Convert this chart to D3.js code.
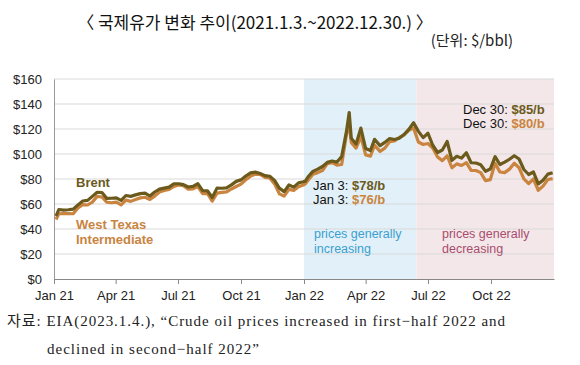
<!DOCTYPE html>
<html>
<head>
<meta charset="utf-8">
<script src="https://cdn.jsdelivr.net/npm/d3@7"></script>
<style>
  body { margin: 0; background: #fff; }
  svg { display: block; font-family: "Liberation Sans", Arial, sans-serif; }
</style>
</head>
<body>
<svg id="chart" width="580" height="365"></svg>
<script>
// weekly readings of the EIA spot prices ($/bbl)
const dates = [
  "2021-01-04","2021-01-08","2021-01-15","2021-01-22","2021-01-29","2021-02-05","2021-02-12","2021-02-19","2021-02-26",
  "2021-03-05","2021-03-12","2021-03-19","2021-03-26","2021-04-02","2021-04-09","2021-04-16","2021-04-23","2021-04-30",
  "2021-05-07","2021-05-14","2021-05-21","2021-05-28","2021-06-04","2021-06-11","2021-06-18","2021-06-25","2021-07-02",
  "2021-07-09","2021-07-16","2021-07-23","2021-07-30","2021-08-06","2021-08-13","2021-08-20","2021-08-27","2021-09-03",
  "2021-09-10","2021-09-17","2021-09-24","2021-10-01","2021-10-08","2021-10-15","2021-10-22","2021-10-29","2021-11-05",
  "2021-11-12","2021-11-19","2021-11-26","2021-12-03","2021-12-10","2021-12-17","2021-12-24","2021-12-31",
  "2022-01-03","2022-01-07","2022-01-14","2022-01-21","2022-01-28","2022-02-04","2022-02-11","2022-02-18","2022-02-25",
  "2022-03-04","2022-03-08","2022-03-11","2022-03-18","2022-03-25","2022-04-01","2022-04-08","2022-04-14","2022-04-22",
  "2022-04-29","2022-05-06","2022-05-13","2022-05-20","2022-05-27","2022-06-03","2022-06-10","2022-06-17","2022-06-24",
  "2022-07-01","2022-07-08","2022-07-15","2022-07-22","2022-07-29","2022-08-05","2022-08-12","2022-08-19","2022-08-26",
  "2022-09-02","2022-09-09","2022-09-16","2022-09-23","2022-09-30","2022-10-07","2022-10-14","2022-10-21","2022-10-28",
  "2022-11-04","2022-11-11","2022-11-18","2022-11-25","2022-12-02","2022-12-09","2022-12-16","2022-12-23","2022-12-30"
];
const brent = [
  50.4,55.6,55.1,55.4,55.9,59.3,62.4,62.9,66.1,
  69.4,69.2,64.5,64.6,64.9,62.9,66.8,66.1,67.3,
  68.3,68.7,66.4,69.6,71.9,72.7,73.5,76.2,76.2,
  75.5,73.6,74.1,76.3,70.7,70.6,65.2,72.7,72.6,
  72.9,75.3,78.1,79.3,82.4,84.9,85.5,84.4,82.7,
  82.2,78.9,72.7,69.9,75.2,73.5,76.9,77.8,
  78.3,81.8,86.1,87.9,90.0,93.3,94.4,93.5,97.9,
  118.1,133.2,112.7,107.9,120.7,104.4,102.8,111.7,106.7,
  109.3,112.4,111.6,112.6,115.6,119.7,125.0,118.1,113.1,
  116.6,107.0,101.2,103.2,110.0,94.9,98.2,96.7,101.0,
  93.0,92.8,91.4,86.2,88.0,97.9,91.6,93.5,95.8,
  98.6,96.0,87.6,83.6,85.6,76.1,79.0,83.9,85.0
];
const wti = [
  47.6,52.2,52.4,52.3,52.2,56.9,59.5,59.2,61.5,
  66.1,65.6,61.4,61.0,61.5,59.3,63.1,62.1,63.6,
  64.9,65.4,63.6,66.3,69.6,70.9,71.6,74.0,75.2,
  74.6,71.8,72.1,74.0,68.3,68.4,62.3,68.7,69.3,
  69.7,72.0,74.0,75.9,79.4,82.3,83.8,83.6,81.3,
  80.8,76.1,68.2,66.3,71.7,70.9,73.8,75.2,
  76.1,78.9,83.8,85.1,86.8,92.3,93.1,91.1,91.6,
  115.7,123.7,109.3,104.7,113.9,99.3,98.3,107.0,102.1,
  104.7,109.8,110.5,113.2,115.1,118.9,120.7,109.6,107.6,
  108.4,104.8,97.6,94.7,98.6,89.0,92.1,90.8,93.1,
  86.9,86.8,85.1,78.7,79.5,92.6,85.6,85.1,87.9,
  92.6,89.0,80.1,76.3,80.0,71.0,74.3,79.6,80.3
];
const yTicks = [0, 20, 40, 60, 80, 100, 120, 140, 160];
const xTickDates = ["2021-01-01","2021-04-01","2021-07-01","2021-10-01","2022-01-01","2022-04-01","2022-07-01","2022-10-01"];
const xTickLabels = ["Jan 21","Apr 21","Jul 21","Oct 21","Jan 22","Apr 22","Jul 22","Oct 22"];
const phases = [
  { from: "2022-01-01", to: "2022-06-14", fill: "#e2f1f9" },
  { from: "2022-06-14", to: "2023-01-01", fill: "#f3e7e9" }
];

const parse = d3.utcParse("%Y-%m-%d");
const svg = d3.select("#chart");

const plotL = 54, plotR = 554, plotT = 79, plotB = 279;

const x = d3.scaleUtc()
  .domain([parse("2021-01-01"), parse("2023-01-01")])
  .range([plotL, plotR]);
const y = d3.scaleLinear().domain([0, 160]).range([plotB, plotT]);

const brentColor = "#6b5a1c", wtiColor = "#c9843f";

// title + unit
svg.append("text")
  .attr("x", 255).attr("y", 29)
  .attr("text-anchor", "middle")
  .style("font-family", "'Noto Sans CJK KR', sans-serif")
  .style("font-size", "17px")
  .attr("fill", "#111")
  .text("〈 국제유가 변화 추이(2021.1.3.~2022.12.30.) 〉");

svg.append("text")
  .attr("x", 513).attr("y", 46)
  .attr("text-anchor", "end")
  .style("font-family", "'Noto Sans CJK KR', sans-serif")
  .style("font-size", "15px")
  .attr("fill", "#222")
  .text("(단위: $/bbl)");

// shaded periods
svg.append("g").selectAll("rect")
  .data(phases)
  .enter().append("rect")
  .attr("x", d => x(parse(d.from)))
  .attr("width", d => x(parse(d.to)) - x(parse(d.from)))
  .attr("y", y(160))
  .attr("height", y(0) - y(160))
  .attr("fill", d => d.fill);

// gridlines
svg.append("g").selectAll("line")
  .data(yTicks.filter(d => d > 0))
  .enter().append("line")
  .attr("x1", plotL).attr("x2", plotR)
  .attr("y1", d => y(d)).attr("y2", d => y(d))
  .attr("stroke", "#d9d9d9")
  .attr("stroke-width", 1);

// y axis
const yAxis = svg.append("g")
  .attr("transform", `translate(${plotL},0)`)
  .call(d3.axisLeft(y).tickValues(yTicks).tickSize(0).tickPadding(12).tickFormat(d => "$" + d));
yAxis.select(".domain").attr("stroke", "#999");
yAxis.selectAll("text").style("font-size", "13px").attr("fill", "#222");

// x axis
const xAxis = svg.append("g")
  .attr("transform", `translate(0,${plotB})`)
  .call(d3.axisBottom(x)
    .tickValues(xTickDates.map(parse))
    .tickSize(5)
    .tickSizeOuter(0)
    .tickPadding(7)
    .tickFormat((d, i) => xTickLabels[i]));
xAxis.select(".domain").attr("stroke", "#888");
xAxis.selectAll(".tick line").attr("stroke", "#888");
xAxis.selectAll("text").style("font-size", "13px").attr("fill", "#222");

// lines
const pts = s => dates.map((d, i) => [parse(d), s[i]]);
const line = d3.line().x(d => x(d[0])).y(d => y(d[1])).curve(d3.curveLinear);

svg.append("path")
  .datum(pts(wti))
  .attr("d", line)
  .attr("fill", "none")
  .attr("stroke", wtiColor)
  .attr("stroke-width", 3.2)
  .attr("stroke-linejoin", "round");

svg.append("path")
  .datum(pts(brent))
  .attr("d", line)
  .attr("fill", "none")
  .attr("stroke", brentColor)
  .attr("stroke-width", 3.2)
  .attr("stroke-linejoin", "round");

// series labels
const lab = svg.append("g").style("font-size", "13px").style("font-weight", "bold");
lab.append("text").attr("x", 76).attr("y", 187).attr("fill", brentColor).text("Brent");
lab.append("text").attr("x", 76).attr("y", 229).attr("fill", wtiColor).text("West Texas");
lab.append("text").attr("x", 76).attr("y", 244).attr("fill", wtiColor).text("Intermediate");

// start / end annotations
const note = (xp, yp, pre, val, col) => {
  const t = svg.append("text").attr("x", xp).attr("y", yp).style("font-size", "13px");
  t.append("tspan").attr("fill", "#111").text(pre);
  t.append("tspan").attr("fill", col).style("font-weight", "bold").text(val);
};
note(313, 190, "Jan 3: ", "$78/b", brentColor);
note(313, 204, "Jan 3: ", "$76/b", wtiColor);
note(463, 114, "Dec 30: ", "$85/b", brentColor);
note(463, 128, "Dec 30: ", "$80/b", wtiColor);

// phase labels
const phaseLab = (xp, col, word) => {
  svg.append("text").attr("x", xp).attr("y", 238).attr("fill", col).style("font-size", "12.5px").text("prices generally");
  svg.append("text").attr("x", xp).attr("y", 253).attr("fill", col).style("font-size", "12.5px").text(word);
};
phaseLab(314, "#3b9fd0", "increasing");
phaseLab(442, "#a94c6e", "decreasing");

// source
const src = svg.append("g")
  .style("font-family", "'Liberation Serif', 'Noto Sans CJK KR', serif")
  .style("font-size", "15px")
  .attr("fill", "#222");
src.append("text").attr("x", 7).attr("y", 326)
  .attr("textLength", 498).attr("lengthAdjust", "spacing")
  .text("자료: EIA(2023.1.4.), “Crude oil prices increased in first−half 2022 and");
src.append("text").attr("x", 47).attr("y", 354)
  .attr("textLength", 212).attr("lengthAdjust", "spacing")
  .text("declined in second−half 2022”");
</script>
</body>
</html>
